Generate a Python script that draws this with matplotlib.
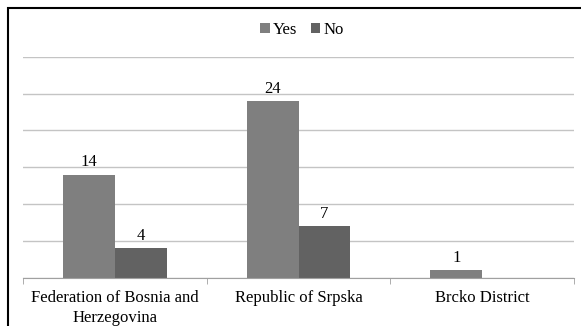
import numpy as np
import matplotlib
matplotlib.use("Agg")
import matplotlib.pyplot as plt
from matplotlib.patches import Rectangle

regions = ["Federation of Bosnia and\nHerzegovina", "Republic of Srpska", "Brcko District"]
yes_counts = [14, 24, 1]
no_counts = [4, 7, 0]

plt.rcParams["font.family"] = ["Liberation Serif", "DejaVu Serif"]
plt.rcParams["font.size"] = 12

W, H = 581, 326
fig = plt.figure(figsize=(W / 100, H / 100), dpi=100)
ax = fig.add_axes([23 / W, 1 - 277.7 / H, (574 - 23) / W, (277.7 - 56.7) / H])

x = np.arange(len(regions))
bw = 0.283
b1 = ax.bar(x - bw / 2, yes_counts, bw, color="#7f7f7f", label="Yes")
b2 = ax.bar(x + bw / 2, no_counts, bw, color="#626262", label="No")

# data labels, skip the empty bar
for bars, vals in [(b1, yes_counts), (b2, no_counts)]:
    for b, v in zip(bars, vals):
        if v > 0:
            ax.annotate(str(v), (b.get_x() + b.get_width() / 2, v),
                        xytext=(0, 3), textcoords="offset points",
                        ha="center", va="bottom", fontsize=12)

ax.set_xlim(-0.5, len(regions) - 0.5)
ax.set_ylim(0, 30)
ax.set_yticks(np.arange(0, 31, 5))
ax.yaxis.grid(True, color="#c4c4c4", linewidth=1)
ax.set_axisbelow(True)
ax.tick_params(axis="y", left=False, labelleft=False)

# category labels centred, tick marks at category borders
ax.set_xticks(x)
ax.set_xticklabels(regions, linespacing=1.3)
ax.tick_params(axis="x", length=0, pad=9)
ax.set_xticks(np.arange(-0.5, len(regions)), minor=True)
ax.tick_params(axis="x", which="minor", length=4, color="#a0a0a0")

for s in ["top", "right", "left"]:
    ax.spines[s].set_visible(False)
ax.spines["bottom"].set_color("#a0a0a0")

fig.legend(loc="center", bbox_to_anchor=(302 / W, 1 - 30 / H), ncol=2,
           frameon=False, handlelength=0.55, handleheight=0.55,
           handletextpad=0.2, columnspacing=0.8, fontsize=12)

# outer frame of the chart area
fig.patches.append(Rectangle((8 / W, -0.05), 1.0, 1 - 8 / H + 0.05,
                             transform=fig.transFigure, fill=False,
                             edgecolor="black", linewidth=1.5))

fig.savefig("out.png", dpi=100, facecolor="white")
